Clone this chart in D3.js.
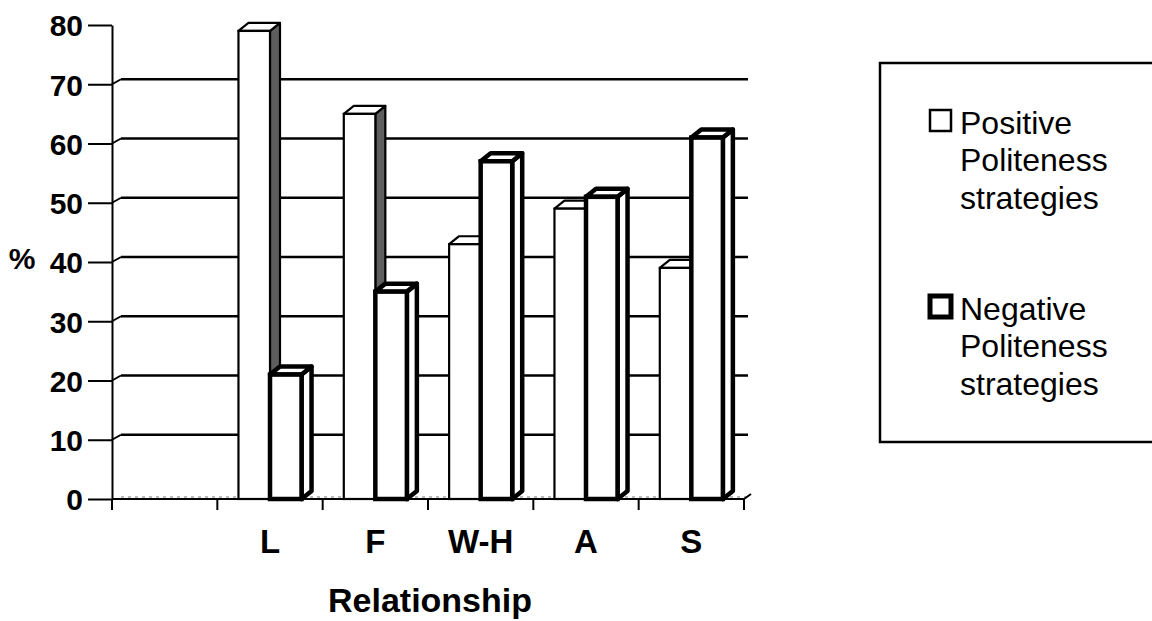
<!DOCTYPE html>
<html lang="en">
<head>
    <meta charset="UTF-8">
    <title>Politeness strategies by relationship</title>
    <script src="https://d3js.org/d3.v7.min.js"></script>
    <style>
        body { margin: 0; background: #fff; font-family: "Liberation Sans", Arial, sans-serif; }
        .axis text { font-weight: bold; font-size: 30px; fill: #000; }
        .axis path, .axis line { stroke: #000; stroke-width: 2; }
    </style>
</head>
<body>
    <svg width="1152" height="621"></svg>

    <script>
        // Data
        const categories = ["L", "F", "W-H", "A", "S"];
        const positiveValues = [79, 65, 43, 49, 39];
        const negativeValues = [21, 35, 57, 51, 61];
        const yTicks = [0, 10, 20, 30, 40, 50, 60, 70, 80];
        const legendLabels = [
            ["Positive", "Politeness", "strategies"],
            ["Negative", "Politeness", "strategies"]
        ];

        const svg = d3.select("svg");

        // plot area
        const plotLeft = 112, plotRight = 744, plotTop = 25, plotBottom = 499;
        const wallDx = 9, wallDy = -5;   // back wall offset
        const depthDx = 10, depthDy = -8; // bar depth

        const xDomain = [""].concat(categories);
        const x = d3.scaleBand().domain(xDomain).range([plotLeft, plotRight]).padding(0);
        const xs = d3.scaleBand().domain(["pos", "neg"]).range([0, x.bandwidth()])
            .paddingInner(0).paddingOuter(0.67);
        const y = d3.scaleLinear().domain([0, 80]).range([plotBottom, plotTop]);

        // gridlines on the back wall
        const grid = svg.append("g");
        yTicks.filter(t => t > 0 && t < 80).forEach(t => {
            grid.append("line")
                .attr("x1", plotLeft).attr("y1", y(t))
                .attr("x2", plotLeft + wallDx).attr("y2", y(t) + wallDy)
                .attr("stroke", "#000").attr("stroke-width", 2);
            grid.append("line")
                .attr("x1", plotLeft + wallDx).attr("y1", y(t) + wallDy)
                .attr("x2", plotRight + 4).attr("y2", y(t) + wallDy)
                .attr("stroke", "#000").attr("stroke-width", 2.5);
        });

        // floor
        grid.append("line")
            .attr("x1", plotLeft + wallDx).attr("y1", y(0) - 2)
            .attr("x2", plotRight + 4).attr("y2", y(0) - 2)
            .attr("stroke", "#bbb").attr("stroke-width", 2).attr("stroke-dasharray", "3,4");
        grid.append("line")
            .attr("x1", plotRight).attr("y1", y(0))
            .attr("x2", plotRight + 7).attr("y2", y(0) + wallDy)
            .attr("stroke", "#000").attr("stroke-width", 2);

        // bars
        function drawBar(g, x0, w, v, opt) {
            const x1 = x0 + w, yt = y(v), yb = y(0);
            g.append("polygon")
                .attr("points", [[x1, yt], [x1 + depthDx, yt + depthDy], [x1 + depthDx, yb + depthDy], [x1, yb]].join(" "))
                .attr("fill", opt.side).attr("stroke", "#000").attr("stroke-width", opt.sw)
                .attr("stroke-linejoin", "round");
            g.append("polygon")
                .attr("points", [[x0, yt], [x0 + depthDx, yt + depthDy], [x1 + depthDx, yt + depthDy], [x1, yt]].join(" "))
                .attr("fill", "#fff").attr("stroke", "#000").attr("stroke-width", opt.sw)
                .attr("stroke-linejoin", "round");
            g.append("rect")
                .attr("x", x0).attr("y", yt)
                .attr("width", w).attr("height", yb - yt)
                .attr("fill", "#fff").attr("stroke", "#000").attr("stroke-width", opt.sw);
        }

        const bars = svg.append("g");
        categories.forEach((c, i) => {
            const g = bars.append("g");
            drawBar(g, x(c) + xs("pos"), xs.bandwidth(), positiveValues[i], { side: "#5e5e5e", sw: 2.2 });
            drawBar(g, x(c) + xs("neg"), xs.bandwidth(), negativeValues[i], { side: "#fff", sw: 4.5 });
        });

        // y axis
        svg.append("g")
            .attr("class", "axis")
            .attr("transform", `translate(${plotLeft},0)`)
            .call(d3.axisLeft(y).tickValues(yTicks).tickSize(24).tickSizeOuter(0).tickPadding(5))
            .selectAll("text").attr("dy", "0.36em");

        // x axis line + boundary ticks
        const xAxis = svg.append("g").attr("class", "axis");
        xAxis.append("line")
            .attr("x1", plotLeft).attr("x2", plotRight)
            .attr("y1", y(0)).attr("y2", y(0))
            .attr("stroke", "#000").attr("stroke-width", 2.5);
        const bounds = xDomain.map(d => x(d)).concat([plotRight]);
        xAxis.selectAll(".xtick").data(bounds).enter().append("line")
            .attr("x1", d => d).attr("x2", d => d)
            .attr("y1", y(0)).attr("y2", y(0) + 11)
            .attr("stroke", "#000").attr("stroke-width", 2);
        xAxis.selectAll(".xlabel").data(categories).enter().append("text")
            .attr("x", d => x(d) + x.bandwidth() / 2)
            .attr("y", 553)
            .attr("text-anchor", "middle")
            .style("font-size", "33px")
            .text(d => d);

        // axis titles
        svg.append("text")
            .attr("x", 430).attr("y", 612)
            .attr("text-anchor", "middle")
            .style("font-weight", "bold").style("font-size", "34px")
            .text("Relationship");
        svg.append("text")
            .attr("x", 22).attr("y", 258).attr("dy", "0.36em")
            .attr("text-anchor", "middle")
            .style("font-weight", "bold").style("font-size", "30px")
            .text("%");

        // legend
        const legend = svg.append("g");
        legend.append("rect")
            .attr("x", 880).attr("y", 63)
            .attr("width", 290).attr("height", 379)
            .attr("fill", "#fff").attr("stroke", "#000").attr("stroke-width", 2.5);
        const legendTops = [122, 308];
        legendLabels.forEach((lines, i) => {
            const sw = i === 0 ? 2.5 : 5;
            legend.append("rect")
                .attr("x", 930).attr("y", legendTops[i] - 12)
                .attr("width", 21).attr("height", 21)
                .attr("fill", "#fff").attr("stroke", "#000").attr("stroke-width", sw);
            lines.forEach((t, j) => {
                legend.append("text")
                    .attr("x", 960).attr("y", legendTops[i] + j * 37.5)
                    .attr("dy", "0.36em")
                    .style("font-size", "32px")
                    .text(t);
            });
        });
    </script>
</body>
</html>
